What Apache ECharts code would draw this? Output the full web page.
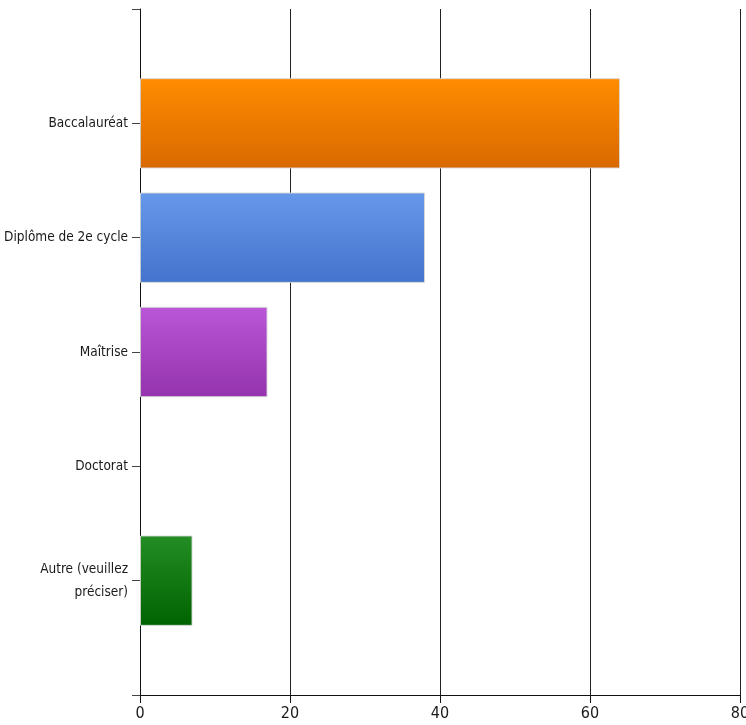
<!DOCTYPE html>
<html>
<head>
<meta charset="utf-8">
<title>Niveau d'études</title>
<script src="https://cdn.jsdelivr.net/npm/echarts@6/dist/echarts.min.js"></script>
<style>
  html, body { margin: 0; padding: 0; background: #ffffff; }
  #chart { width: 746px; height: 725px; }
</style>
</head>
<body>
<div id="chart"></div>
<script>
// Responses per level of education
const categories = [
  'Baccalauréat',
  'Diplôme de 2e cycle',
  'Maîtrise',
  'Doctorat',
  'Autre (veuillez\npréciser)'
];
const values = [64, 38, 17, 0, 7];
const xTicks = [0, 20, 40, 60, 80];

// Top / bottom colours of each bar's vertical gradient
const barTop = ['#ff8c00', '#6598ea', '#ba56d8', '#248d24'];
const barBottom = ['#d96900', '#4373cc', '#9433ac', '#006300'];
const barColorIndex = [0, 1, 2, 2, 3];

const FONT = '"Liberation Sans Narrow", "Arial Narrow", "DejaVu Sans Condensed", sans-serif';

// Empty slots above and below the categories so ticks sit at both ends of the axis
const axisCats = [''].concat(categories, ['']);

const seriesData = [{ value: null }].concat(values.map((v, i) => {
  const c = barColorIndex[i];
  return {
    value: v,
    itemStyle: {
      borderWidth: v > 0 ? 1 : 0,
      color: new echarts.graphic.LinearGradient(0, 0, 0, 1, [
        { offset: 0, color: barTop[c] },
        { offset: 1, color: barBottom[c] }
      ])
    }
  };
}), [{ value: null }]);

const chart = echarts.init(document.getElementById('chart'), null, { renderer: 'canvas' });

chart.setOption({
  animation: false,
  backgroundColor: '#ffffff',
  grid: { left: 140, right: 6, top: 9, bottom: 30, containLabel: false, outerBoundsMode: 'none' },
  xAxis: {
    type: 'value',
    min: xTicks[0],
    max: xTicks[xTicks.length - 1],
    interval: xTicks[1] - xTicks[0],
    axisLine: { show: true, lineStyle: { color: '#111', width: 1 } },
    axisTick: { show: true, length: 8, lineStyle: { color: '#111' } },
    splitLine: { show: true, lineStyle: { color: '#222', width: 1 } },
    axisLabel: { color: '#1a1a1a', fontFamily: FONT, fontSize: 16, margin: 11 }
  },
  yAxis: {
    type: 'category',
    inverse: true,
    boundaryGap: false,
    data: axisCats,
    axisLine: { show: true, lineStyle: { color: '#111', width: 1 } },
    axisTick: { show: true, length: 8, alignWithLabel: true, interval: 0, lineStyle: { color: '#444' } },
    splitLine: { show: false },
    axisLabel: {
      interval: 0,
      color: '#1a1a1a',
      fontFamily: FONT,
      fontSize: 13.5,
      lineHeight: 23,
      margin: 12,
      align: 'right'
    }
  },
  series: [{
    type: 'bar',
    data: seriesData,
    barWidth: '79%',
    itemStyle: { borderColor: 'rgba(215,215,215,0.9)', borderWidth: 1 }
  }]
});
</script>
</body>
</html>
